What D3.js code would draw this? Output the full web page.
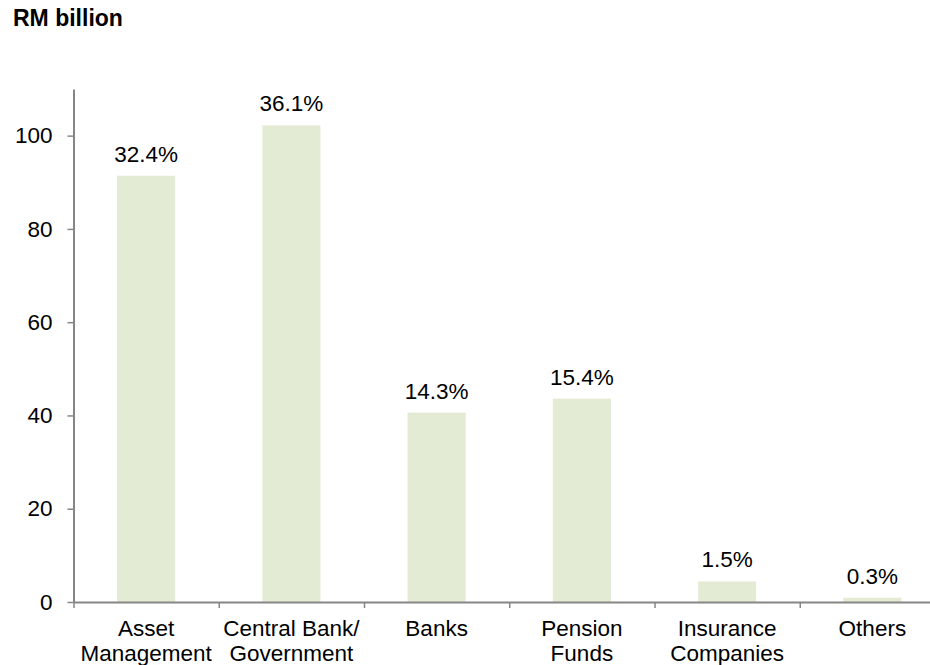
<!DOCTYPE html>
<html>
<head>
<meta charset="utf-8">
<script src="https://cdn.jsdelivr.net/npm/d3@7"></script>
<style>
  body { margin: 0; background: #fff; }
  text { font-family: "Liberation Sans", Arial, sans-serif; fill: #000; }
</style>
</head>
<body>
<div id="chart"></div>
<script>
// data
var categories = [
  ["Asset", "Management"],
  ["Central Bank/", "Government"],
  ["Banks"],
  ["Pension", "Funds"],
  ["Insurance", "Companies"],
  ["Others"]
];
var values = [91.4, 102.2, 40.6, 43.6, 4.4, 0.9];
var shares = ["32.4%", "36.1%", "14.3%", "15.4%", "1.5%", "0.3%"];
var yTicks = [0, 20, 40, 60, 80, 100];

var svgWidth = 930;
var svgHeight = 665;

var margin = { top: 89, left: 73.5, bottom: 63 };
var step = 145.25;
var plotRight = margin.left + step * categories.length;
var zeroY = svgHeight - margin.bottom;
var fontSize = "22.5px";

var svg = d3.select("#chart")
    .append("svg")
    .attr("width", svgWidth)
    .attr("height", svgHeight);

var keys = categories.map(function (c) { return c.join(" "); });

var x = d3.scaleBand()
    .domain(keys)
    .range([margin.left, plotRight])
    .paddingInner(0.6)
    .paddingOuter(0.3);

var xEdge = d3.scaleLinear()
    .domain([0, categories.length])
    .range([margin.left, plotRight]);

var y = d3.scaleLinear()
    .domain([0, 110])
    .range([zeroY, margin.top]);

// title
svg.append("text")
    .attr("x", 13)
    .attr("y", 26)
    .attr("font-size", "23px")
    .attr("font-weight", "bold")
    .text("RM billion");

// bars
svg.selectAll("rect.bar")
    .data(values)
    .enter()
    .append("rect")
    .attr("class", "bar")
    .attr("x", function (d, i) { return x(keys[i]); })
    .attr("y", function (d) { return y(d); })
    .attr("width", x.bandwidth())
    .attr("height", function (d) { return zeroY - y(d); })
    .attr("fill", "#e3ebd5");

// percentage labels
svg.selectAll("text.share")
    .data(values)
    .enter()
    .append("text")
    .attr("class", "share")
    .attr("x", function (d, i) { return x(keys[i]) + x.bandwidth() / 2; })
    .attr("y", function (d) { return y(d) - 14; })
    .attr("text-anchor", "middle")
    .attr("font-size", fontSize)
    .text(function (d, i) { return shares[i]; });

// y axis
var leftAxis = d3.axisLeft(y)
    .tickValues(yTicks)
    .tickSize(6)
    .tickPadding(15)
    .tickSizeOuter(0);

var gy = svg.append("g")
    .attr("transform", "translate(" + margin.left + ",0)")
    .call(leftAxis);
gy.select(".domain").attr("stroke", "#868686").attr("stroke-width", 2);
gy.selectAll(".tick line").attr("stroke", "#868686").attr("stroke-width", 1.5);
gy.selectAll(".tick text")
    .attr("font-size", fontSize)
    .attr("font-family", "Liberation Sans, Arial, sans-serif")
    .attr("fill", "#000");

// x axis: boundary ticks
var bottomAxis = d3.axisBottom(xEdge)
    .ticks(categories.length)
    .tickSize(6)
    .tickFormat("")
    .tickSizeOuter(0);

var gx = svg.append("g")
    .attr("transform", "translate(0," + zeroY + ")")
    .call(bottomAxis);
gx.select(".domain").attr("stroke", "#868686").attr("stroke-width", 2);
gx.selectAll(".tick line").attr("stroke", "#868686").attr("stroke-width", 1.5);

// category labels
var labels = svg.selectAll("text.cat")
    .data(categories)
    .enter()
    .append("text")
    .attr("class", "cat")
    .attr("text-anchor", "middle")
    .attr("font-size", fontSize)
    .attr("transform", function (d, i) {
        return "translate(" + (x(keys[i]) + x.bandwidth() / 2) + "," + (zeroY + 34) + ")";
    });

labels.selectAll("tspan")
    .data(function (d) { return d; })
    .enter()
    .append("tspan")
    .attr("x", 0)
    .attr("dy", function (d, i) { return i === 0 ? 0 : 25; })
    .text(function (d) { return d; });
</script>
</body>
</html>
